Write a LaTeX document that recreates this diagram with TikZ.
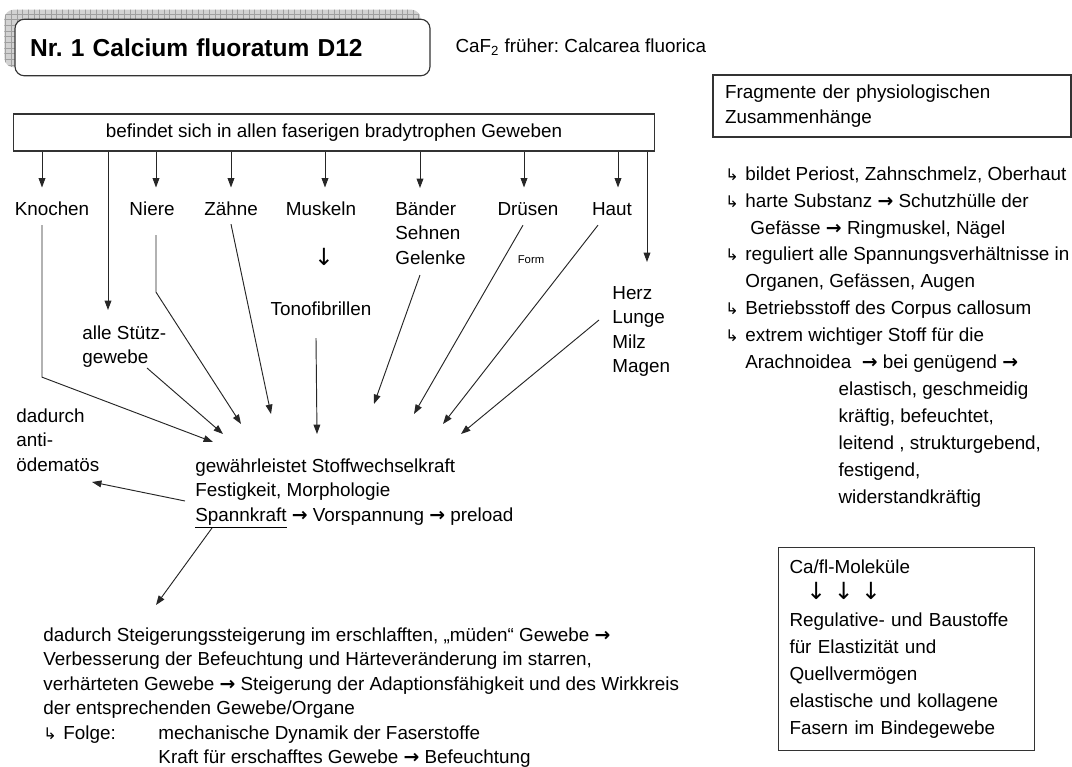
\documentclass[tikz,border=0pt]{standalone}
\usepackage{fontspec}
\setmainfont{Liberation Sans}
\newfontfamily\arrowfont{DejaVu Sans}
\usepackage{tikz}
\usetikzlibrary{arrows.meta, positioning, calc, backgrounds, patterns}
\frenchspacing

\newcommand{\pfeil}{{\arrowfont\bfseries\fontsize{10}{10}\selectfont →}}
\newcommand{\runter}{{\arrowfont\fontsize{12.5}{12}\selectfont ↓}}
\newcommand{\haken}{\makebox[10.6pt][l]{\arrowfont\fontsize{8.5}{9}\selectfont ↳}}

\begin{document}
\begin{tikzpicture}[
        x=0.53pt, y=-0.53pt,
        font=\fontsize{10}{13}\selectfont,
        wire/.style={draw=black!85, line width=0.5pt},
        link/.style={wire, -{Triangle[length=5pt, width=3.6pt]}},
        organ/.style={inner sep=0pt, text height=7.5pt, text depth=2pt, anchor=base},
        stack/.style={inner sep=0pt, align=left, anchor=north west},
        panel/.style={rectangle, draw=black!80, line width=0.6pt, inner sep=0pt},
        titlebox/.style={panel, rounded corners=5pt, fill=white, font=\fontsize{13}{15}\selectfont\bfseries, text width=204pt, align=left, inner xsep=8pt, minimum height=30pt},
        gridshadow/.style={rounded corners=5pt, preaction={fill=gray!35}, pattern=grid, pattern color=gray!75}
    ]
        \useasboundingbox (0,0) rectangle (1072,767);

        % title with hatched shadow
        \node[titlebox] (title) at (222.5,47.5) {Nr. 1 Calcium fluoratum D12};
        \begin{scope}[on background layer]
            \path[gridshadow] ($(title.south west)+(-10,-9)$) rectangle ($(title.north east)+(-10,-9)$);
        \end{scope}
        \node[right=13pt of title, inner sep=0pt] (caf) {CaF\textsubscript{2} früher: Calcarea fluorica};

        \node[panel, text width=177pt, inner xsep=6.4pt, minimum height=32.9pt, align=left] (frag) at (892,106) {Fragmente der physiologischen\\Zusammenhänge};

        \node[panel, minimum width=340pt, minimum height=19.6pt] (top) at (334,132.5) {befindet sich in allen faserigen bradytrophen Geweben};

        % organs
        \node[organ] (knochen) at (52,215) {Knochen};
        \node[organ] (niere) at (152,215) {Niere};
        \node[organ] (zaehne) at (231,215) {Zähne};
        \node[organ] (muskeln) at (321,215) {Muskeln};
        \node[stack] (baender) at (395,201) {Bänder\\Sehnen\\Gelenke};
        \node[organ] (druesen) at (528,215) {Drüsen};
        \node[organ] (haut) at (612,215) {Haut};
        \node[stack] (herz) at (612,286) {Herz\\Lunge\\Milz\\Magen};
        \node[organ] (mdown) at (324,265) {\runter};
        \node[organ] (tono) at (321,315) {Tonofibrillen};
        \node[inner sep=0pt, font=\fontsize{6}{7}\selectfont] (form) at (531,260) {Form};
        \node[stack] (stuetz) at (82,325) {alle Stütz-\\gewebe};
        \node[stack] (dadurch) at (16,408) {dadurch\\anti-\\ödematös};

        \node[stack] (hub) at (195,458) {gewährleistet Stoffwechselkraft\\Festigkeit, Morphologie\\\underline{Spannkraft} \pfeil{} Vorspannung \pfeil{} preload};

        \node[stack, font=\fontsize{10}{14.3}\selectfont] (fakten) at (725,166) {\haken bildet Periost, Zahnschmelz, Oberhaut\\
            \haken harte Substanz \pfeil{} Schutzhülle der\\
            \hspace*{13.3pt}Gefässe \pfeil{} Ringmuskel, Nägel\\
            \haken reguliert alle Spannungsverhältnisse in\\
            \hspace*{10.6pt}Organen, Gefässen, Augen\\
            \haken Betriebsstoff des Corpus callosum\\
            \haken extrem wichtiger Stoff für die\\
            \hspace*{10.6pt}Arachnoidea \ \pfeil{} bei genügend \pfeil\\
            \hspace*{60pt}elastisch, geschmeidig\\
            \hspace*{60pt}kräftig, befeuchtet,\\
            \hspace*{60pt}leitend , strukturgebend,\\
            \hspace*{60pt}festigend,\\
            \hspace*{60pt}widerstandkräftig};

        \node[panel, anchor=north west, text width=124pt, inner xsep=5.8pt, minimum height=107.6pt, align=left, font=\fontsize{10}{14.3}\selectfont] (cafl) at (778,547) {Ca/fl-Moleküle\\
            \hspace*{9pt}\runter\hspace{4pt}\runter\hspace{4pt}\runter\\
            Regulative- und Baustoffe\\für Elastizität und\\Quellvermögen\\elastische und kollagene\\Fasern im Bindegewebe};

        \node[stack] (folge) at (43,627) {dadurch Steigerungssteigerung im erschlafften, „müden“ Gewebe \pfeil\\
            Verbesserung der Befeuchtung und Härteveränderung im starren,\\
            verhärteten Gewebe \pfeil{} Steigerung der Adaptionsfähigkeit und des Wirkkreis\\
            der entsprechenden Gewebe/Organe\\
            \makebox[61pt][l]{\haken Folge:}mechanische Dynamik der Faserstoffe\\
            \hspace*{61pt}Kraft für erschafftes Gewebe \pfeil{} Befeuchtung};

        % arrow ends below the top box
        \coordinate (knochen-in) at ($(knochen.north)+(-10,-13)$);
        \coordinate (stuetz-in) at ($(stuetz.north west)+(26,-15)$);
        \coordinate (niere-in) at ($(niere.north)+(4,-13)$);
        \coordinate (zaehne-in) at ($(zaehne.north)+(0,-13)$);
        \coordinate (muskeln-in) at ($(muskeln.north)+(4,-13)$);
        \coordinate (baender-in) at ($(baender.north west)+(25,-13)$);
        \coordinate (druesen-in) at ($(druesen.north)+(-4,-13)$);
        \coordinate (haut-in) at ($(haut.north)+(6,-13)$);
        \coordinate (herz-in) at ($(herz.north west)+(35,-24)$);

        \draw[link] (top.south -| knochen-in) -- (knochen-in);
        \draw[link] (top.south -| stuetz-in) -- (stuetz-in);
        \draw[link] (top.south -| niere-in) -- (niere-in);
        \draw[link] (top.south -| zaehne-in) -- (zaehne-in);
        \draw[link] (top.south -| muskeln-in) -- (muskeln-in);
        \draw[link] (top.south -| baender-in) -- (baender-in);
        \draw[link] (top.south -| druesen-in) -- (druesen-in);
        \draw[link] (top.south -| haut-in) -- (haut-in);
        \draw[link] (top.south -| herz-in) -- (herz-in);

        % everything runs into the hub
        \draw[link] ($(knochen.south)+(-10,6)$) -- ++(0,152) -- ($(hub.north west)+(18,-16)$);
        \draw[link] ($(stuetz.north west)+(65,43)$) -- ($(hub.north west)+(28,-24)$);
        \draw[link] ($(niere.south)+(4,16)$) -- ++(0,57) -- ($(hub.north west)+(46,-34)$);
        \draw[link] ($(zaehne.south)+(0,5)$) -- ($(hub.north west)+(76,-44)$);
        \draw[link] ($(tono.south)+(-5,19)$) -- ($(hub.north west)+(122,-24)$);
        \draw[link] ($(baender.north west)+(25,74)$) -- ($(hub.north west)+(179,-54)$);
        \draw[link] ($(druesen.south)+(-5,6)$) -- ($(hub.north west)+(219,-44)$);
        \draw[link] ($(haut.south)+(-14,6)$) -- ($(hub.north west)+(248,-34)$);
        \draw[link] ($(herz.north west)+(-13,34)$) -- ($(hub.north west)+(266,-24)$);

        \draw[link] ($(hub.north west)+(-10,43)$) -- ($(dadurch.north west)+(76,74)$);
        \draw[link] ($(hub.north west)+(17,70)$) -- ($(folge.north west)+(113,-22)$);
    \end{tikzpicture}
\end{document}
